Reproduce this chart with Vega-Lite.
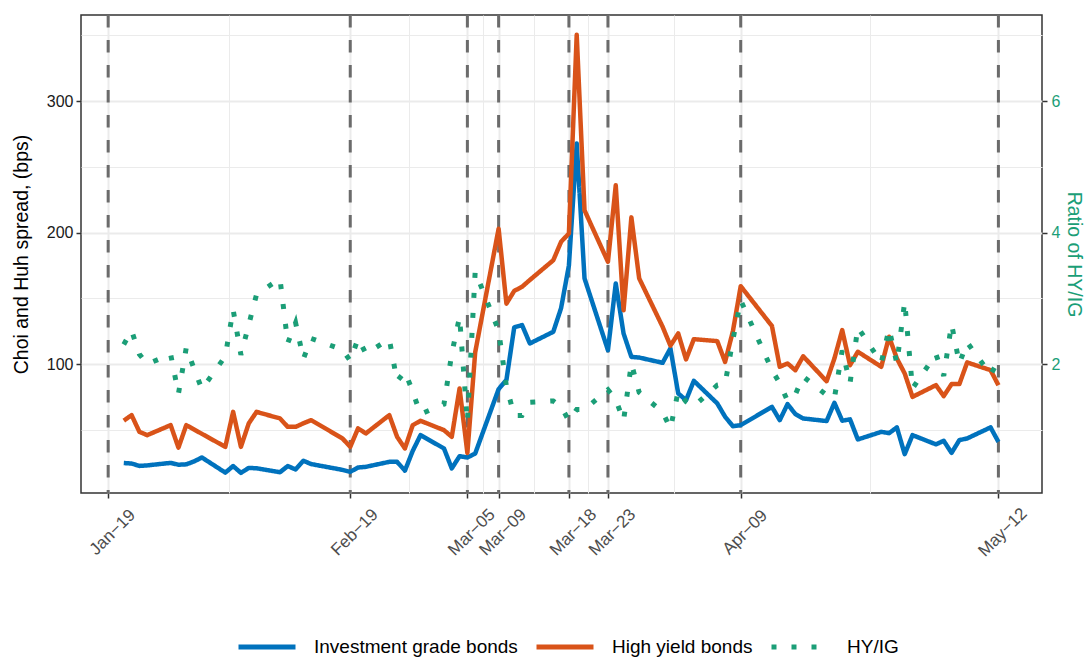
{
  "$schema": "https://vega.github.io/schema/vega-lite/v6.json",
  "width": 961,
  "height": 478,
  "autosize": {"type": "none"},
  "padding": {"left": 81, "top": 15, "right": 44, "bottom": 165},
  "background": "white",
  "config": {
    "font": "Liberation Sans",
    "view": {"stroke": "#333333", "strokeWidth": 1.5},
    "axis": {
      "domain": false,
      "tickColor": "#333333",
      "tickWidth": 1.5,
      "tickSize": 5,
      "gridColor": "#ebebeb",
      "labelFontSize": 16,
      "titleFontSize": 19.5,
      "titleFontWeight": "normal",
      "titleColor": "#000000",
      "labelColor": "#1a1a1a"
    },
    "legend": {
      "orient": "none",
      "direction": "horizontal",
      "legendX": 155,
      "legendY": 601,
      "symbolType": "stroke",
      "symbolSize": 3249,
      "symbolStrokeWidth": 5,
      "labelFontSize": 19,
      "labelColor": "#000000",
      "labelOffset": 16,
      "columnPadding": 8,
      "labelLimit": 400
    }
  },
  "data": {
    "format": {"parse": {"date": "date:'%Y-%m-%d'"}},
    "values": [
      {"date": "2020-01-21", "ig": 24.8, "hy": 57.0, "ratio": 2.30},
      {"date": "2020-01-22", "ig": 24.4, "hy": 61.2, "ratio": 2.51},
      {"date": "2020-01-23", "ig": 22.6, "hy": 48.5, "ratio": 2.15},
      {"date": "2020-01-24", "ig": 23.0, "hy": 46.0, "ratio": 2.00},
      {"date": "2020-01-27", "ig": 24.9, "hy": 53.6, "ratio": 2.15},
      {"date": "2020-01-28", "ig": 23.5, "hy": 36.5, "ratio": 1.55},
      {"date": "2020-01-29", "ig": 23.8, "hy": 53.6, "ratio": 2.25},
      {"date": "2020-01-30", "ig": 26.0, "hy": 50.3, "ratio": 1.93},
      {"date": "2020-01-31", "ig": 29.0, "hy": 47.0, "ratio": 1.62},
      {"date": "2020-02-03", "ig": 17.5, "hy": 37.1, "ratio": 2.12},
      {"date": "2020-02-04", "ig": 22.5, "hy": 63.7, "ratio": 2.83},
      {"date": "2020-02-05", "ig": 17.3, "hy": 37.1, "ratio": 2.14},
      {"date": "2020-02-06", "ig": 21.1, "hy": 54.9, "ratio": 2.60},
      {"date": "2020-02-07", "ig": 20.8, "hy": 63.7, "ratio": 3.06},
      {"date": "2020-02-10", "ig": 17.8, "hy": 58.7, "ratio": 3.30},
      {"date": "2020-02-11", "ig": 22.5, "hy": 52.3, "ratio": 2.32},
      {"date": "2020-02-12", "ig": 19.9, "hy": 52.3, "ratio": 2.63},
      {"date": "2020-02-13", "ig": 26.5, "hy": 55.0, "ratio": 2.08},
      {"date": "2020-02-14", "ig": 24.0, "hy": 57.4, "ratio": 2.39},
      {"date": "2020-02-18", "ig": 19.6, "hy": 43.5, "ratio": 2.22},
      {"date": "2020-02-19", "ig": 18.1, "hy": 37.1, "ratio": 2.05},
      {"date": "2020-02-20", "ig": 21.4, "hy": 51.1, "ratio": 2.39},
      {"date": "2020-02-21", "ig": 21.9, "hy": 47.3, "ratio": 2.16},
      {"date": "2020-02-24", "ig": 25.7, "hy": 61.2, "ratio": 2.38},
      {"date": "2020-02-25", "ig": 25.7, "hy": 44.7, "ratio": 1.74},
      {"date": "2020-02-26", "ig": 19.0, "hy": 35.9, "ratio": 1.89},
      {"date": "2020-02-27", "ig": 34.0, "hy": 53.6, "ratio": 1.58},
      {"date": "2020-02-28", "ig": 46.0, "hy": 56.9, "ratio": 1.24},
      {"date": "2020-03-02", "ig": 35.9, "hy": 49.8, "ratio": 1.39},
      {"date": "2020-03-03", "ig": 20.7, "hy": 44.7, "ratio": 2.16},
      {"date": "2020-03-04", "ig": 30.0, "hy": 81.5, "ratio": 2.72},
      {"date": "2020-03-05", "ig": 29.0, "hy": 32.5, "ratio": 1.12},
      {"date": "2020-03-06", "ig": 32.0, "hy": 109.0, "ratio": 3.41},
      {"date": "2020-03-09", "ig": 81.0, "hy": 203.0, "ratio": 2.51},
      {"date": "2020-03-10", "ig": 88.0, "hy": 146.0, "ratio": 1.66},
      {"date": "2020-03-11", "ig": 128.0, "hy": 155.7, "ratio": 1.22},
      {"date": "2020-03-12", "ig": 129.7, "hy": 158.8, "ratio": 1.22},
      {"date": "2020-03-13", "ig": 115.7, "hy": 164.0, "ratio": 1.42},
      {"date": "2020-03-16", "ig": 124.6, "hy": 179.0, "ratio": 1.44},
      {"date": "2020-03-17", "ig": 142.6, "hy": 193.0, "ratio": 1.35},
      {"date": "2020-03-18", "ig": 175.0, "hy": 199.4, "ratio": 1.14},
      {"date": "2020-03-19", "ig": 267.8, "hy": 350.4, "ratio": 1.31},
      {"date": "2020-03-20", "ig": 165.2, "hy": 217.0, "ratio": 1.31},
      {"date": "2020-03-23", "ig": 110.6, "hy": 177.8, "ratio": 1.61},
      {"date": "2020-03-24", "ig": 161.4, "hy": 236.0, "ratio": 1.46},
      {"date": "2020-03-25", "ig": 123.3, "hy": 141.0, "ratio": 1.14},
      {"date": "2020-03-26", "ig": 105.5, "hy": 211.6, "ratio": 2.01},
      {"date": "2020-03-27", "ig": 105.0, "hy": 165.2, "ratio": 1.57},
      {"date": "2020-03-30", "ig": 101.0, "hy": 128.4, "ratio": 1.27},
      {"date": "2020-03-31", "ig": 112.0, "hy": 114.0, "ratio": 1.02},
      {"date": "2020-04-01", "ig": 77.7, "hy": 123.3, "ratio": 1.59},
      {"date": "2020-04-02", "ig": 72.6, "hy": 103.6, "ratio": 1.43},
      {"date": "2020-04-03", "ig": 87.3, "hy": 119.0, "ratio": 1.36},
      {"date": "2020-04-06", "ig": 70.1, "hy": 117.5, "ratio": 1.68},
      {"date": "2020-04-07", "ig": 60.0, "hy": 101.7, "ratio": 1.70},
      {"date": "2020-04-08", "ig": 52.8, "hy": 125.0, "ratio": 2.37},
      {"date": "2020-04-09", "ig": 53.6, "hy": 159.3, "ratio": 2.97},
      {"date": "2020-04-13", "ig": 67.5, "hy": 129.0, "ratio": 1.91},
      {"date": "2020-04-14", "ig": 57.4, "hy": 98.0, "ratio": 1.71},
      {"date": "2020-04-15", "ig": 69.6, "hy": 100.5, "ratio": 1.44},
      {"date": "2020-04-16", "ig": 62.0, "hy": 95.4, "ratio": 1.54},
      {"date": "2020-04-17", "ig": 58.7, "hy": 106.0, "ratio": 1.81},
      {"date": "2020-04-20", "ig": 56.7, "hy": 87.0, "ratio": 1.53},
      {"date": "2020-04-21", "ig": 70.6, "hy": 104.3, "ratio": 1.48},
      {"date": "2020-04-22", "ig": 57.0, "hy": 125.9, "ratio": 2.21},
      {"date": "2020-04-23", "ig": 58.0, "hy": 99.2, "ratio": 1.71},
      {"date": "2020-04-24", "ig": 42.7, "hy": 109.4, "ratio": 2.56},
      {"date": "2020-04-27", "ig": 48.5, "hy": 98.0, "ratio": 2.02},
      {"date": "2020-04-28", "ig": 47.5, "hy": 120.8, "ratio": 2.54},
      {"date": "2020-04-29", "ig": 51.9, "hy": 104.3, "ratio": 2.01},
      {"date": "2020-04-30", "ig": 31.5, "hy": 92.9, "ratio": 2.95},
      {"date": "2020-05-01", "ig": 46.0, "hy": 75.1, "ratio": 1.63},
      {"date": "2020-05-04", "ig": 39.0, "hy": 84.0, "ratio": 2.15},
      {"date": "2020-05-05", "ig": 41.7, "hy": 75.7, "ratio": 1.82},
      {"date": "2020-05-06", "ig": 32.5, "hy": 84.8, "ratio": 2.61},
      {"date": "2020-05-07", "ig": 42.2, "hy": 84.8, "ratio": 2.01},
      {"date": "2020-05-08", "ig": 43.5, "hy": 101.3, "ratio": 2.33},
      {"date": "2020-05-11", "ig": 51.9, "hy": 95.4, "ratio": 1.84},
      {"date": "2020-05-12", "ig": 40.9, "hy": 84.0, "ratio": 2.05}
    ]
  },
  "encoding": {
    "x": {
      "field": "date",
      "type": "temporal",
      "scale": {"domain": [{"year": 2020, "month": 1, "date": 15, "hours": 12, "minutes": 30}, {"year": 2020, "month": 5, "date": 17, "hours": 14}]},
      "axis": {
        "title": null,
        "grid": true,
        "values": [
          {"year": 2020, "month": 1, "date": 19},
          {"year": 2020, "month": 2, "date": 3, "hours": 12},
          {"year": 2020, "month": 2, "date": 19},
          {"year": 2020, "month": 2, "date": 26, "hours": 12},
          {"year": 2020, "month": 3, "date": 5},
          {"year": 2020, "month": 3, "date": 7},
          {"year": 2020, "month": 3, "date": 9},
          {"year": 2020, "month": 3, "date": 13, "hours": 12},
          {"year": 2020, "month": 3, "date": 18},
          {"year": 2020, "month": 3, "date": 20, "hours": 12},
          {"year": 2020, "month": 3, "date": 23},
          {"year": 2020, "month": 3, "date": 31, "hours": 12},
          {"year": 2020, "month": 4, "date": 9},
          {"year": 2020, "month": 4, "date": 25, "hours": 12},
          {"year": 2020, "month": 5, "date": 12}
        ],
        "format": "%b-%d",
        "labelExpr": "indexof(['Jan-19','Feb-19','Mar-05','Mar-09','Mar-18','Mar-23','Apr-09','May-12'], datum.label) >= 0 ? replace(datum.label, '-', '\u2212') : ''",
        "gridWidth": {"condition": {"test": "indexof(['Jan-19','Feb-19','Mar-05','Mar-09','Mar-18','Mar-23','Apr-09','May-12'], timeFormat(datum.value, '%b-%d')) >= 0", "value": 2}, "value": 1},
        "tickOpacity": {"condition": {"test": "indexof(['Jan-19','Feb-19','Mar-05','Mar-09','Mar-18','Mar-23','Apr-09','May-12'], timeFormat(datum.value, '%b-%d')) >= 0", "value": 1}, "value": 0},
        "labelAngle": -45,
        "labelAlign": "center",
        "labelBaseline": "middle",
        "labelFontSize": 17,
        "labelPadding": 34,
        "labelOffset": 4,
        "labelOverlap": false,
        "labelBound": false,
        "labelFlush": false,
        "labelColor": "#4d4d4d"
      }
    }
  },
  "layer": [
    {
      "data": {
        "format": {"parse": {"date": "date:'%Y-%m-%d'"}},
        "values": [
          {"date": "2020-01-19"},
          {"date": "2020-02-19"},
          {"date": "2020-03-05"},
          {"date": "2020-03-09"},
          {"date": "2020-03-18"},
          {"date": "2020-03-23"},
          {"date": "2020-04-09"},
          {"date": "2020-05-12"}
        ]
      },
      "mark": {"type": "rule", "color": "#6b6b6b", "strokeWidth": 3, "strokeDash": [12.5, 12.5]}
    },
    {
      "transform": [{"fold": ["ig", "hy"], "as": ["series", "value"]}],
      "mark": {"type": "line", "strokeWidth": 4.5, "strokeCap": "butt", "strokeJoin": "round"},
      "encoding": {
        "y": {
          "field": "value",
          "type": "quantitative",
          "scale": {"domain": [2, 365.5], "nice": false, "zero": false},
          "axis": {
            "title": "Choi and Huh spread, (bps)",
            "orient": "left",
            "grid": true,
            "values": [50, 100, 150, 200, 250, 300, 350],
            "labelExpr": "datum.value % 100 == 0 ? datum.label : ''",
            "gridWidth": {"condition": {"test": "datum.value % 100 == 0", "value": 2}, "value": 1},
            "tickOpacity": {"condition": {"test": "datum.value % 100 == 0", "value": 1}, "value": 0},
            "labelPadding": 3,
            "titlePadding": 15
          }
        },
        "color": {
          "field": "series",
          "type": "nominal",
          "scale": {"domain": ["ig", "hy", "ratio"], "range": ["#0072BD", "#D95319", "#1B9E77"]},
          "legend": {"title": null, "labelExpr": "datum.label == 'ig' ? 'Investment grade bonds' : datum.label == 'hy' ? 'High yield bonds' : 'HY/IG'"}
        },
        "strokeDash": {
          "field": "series",
          "type": "nominal",
          "scale": {"domain": ["ig", "hy", "ratio"], "range": [[1, 0], [1, 0], [5, 15]]},
          "legend": {"title": null, "labelExpr": "datum.label == 'ig' ? 'Investment grade bonds' : datum.label == 'hy' ? 'High yield bonds' : 'HY/IG'"}
        }
      }
    },
    {
      "transform": [{"fold": ["ratio"], "as": ["series", "value"]}],
      "mark": {"type": "line", "strokeWidth": 5, "strokeCap": "butt"},
      "encoding": {
        "y": {
          "field": "value",
          "type": "quantitative",
          "scale": {"domain": [0.04, 7.31], "nice": false, "zero": false},
          "axis": {
            "title": "Ratio of HY/IG",
            "orient": "right",
            "grid": false,
            "values": [2, 4, 6],
            "labelColor": "#1B9E77",
            "titleColor": "#1B9E77",
            "titleAngle": 90,
            "labelPadding": 4,
            "titlePadding": 4
          }
        },
        "color": {
          "field": "series",
          "type": "nominal",
          "scale": {"domain": ["ig", "hy", "ratio"], "range": ["#0072BD", "#D95319", "#1B9E77"]},
          "legend": {"title": null, "labelExpr": "datum.label == 'ig' ? 'Investment grade bonds' : datum.label == 'hy' ? 'High yield bonds' : 'HY/IG'"}
        },
        "strokeDash": {
          "field": "series",
          "type": "nominal",
          "scale": {"domain": ["ig", "hy", "ratio"], "range": [[1, 0], [1, 0], [5, 15]]},
          "legend": {"title": null, "labelExpr": "datum.label == 'ig' ? 'Investment grade bonds' : datum.label == 'hy' ? 'High yield bonds' : 'HY/IG'"}
        }
      }
    }
  ],
  "resolve": {"scale": {"y": "independent"}}
}
